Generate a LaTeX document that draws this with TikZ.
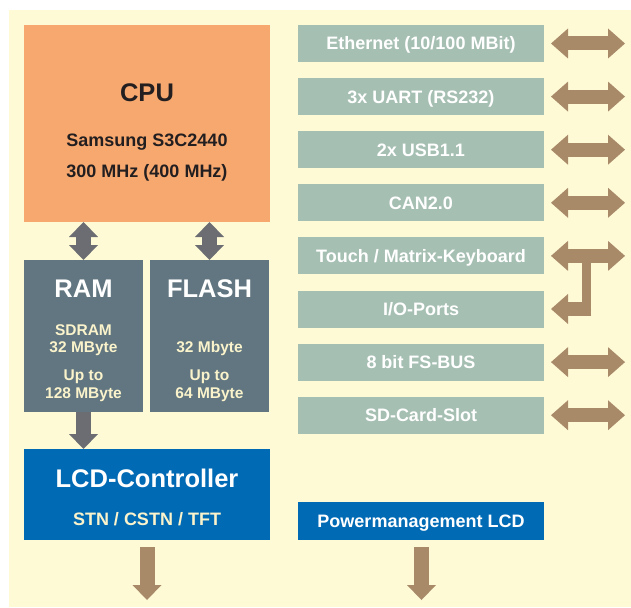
\documentclass[tikz,border=0pt]{standalone}
\usepackage{fontspec}
\setmainfont{Liberation Sans}
\usetikzlibrary{arrows.meta}
\definecolor{bgcream}{HTML}{FFFAD6}
\definecolor{cpuorange}{HTML}{F7A86F}
\definecolor{cpudark}{HTML}{231F20}
\definecolor{memslate}{HTML}{617680}
\definecolor{memtext}{HTML}{FAF3CB}
\definecolor{iogreen}{HTML}{A6BFB3}
\definecolor{lcdblue}{HTML}{006AB5}
\definecolor{arrbrown}{HTML}{A88A69}
\definecolor{arrgrey}{HTML}{6B6D72}
\tikzset{
  blk/.style={inner sep=0pt, outer sep=0pt, anchor=north west},
  titlefont/.style={font=\bfseries\fontsize{25.5}{30}\selectfont},
  midfont/.style={font=\bfseries\fontsize{18}{21}\selectfont},
  smallfont/.style={font=\bfseries\fontsize{15.5}{18}\selectfont},
  txt/.style={inner sep=0pt, anchor=base},
  iobox/.style={blk, fill=iogreen, text=white, midfont, minimum width=246pt, minimum height=37pt, text height=12.9pt, text depth=0pt},
  gtip/.tip={Triangle[width=29pt,length=15pt,line width=0pt]},
  btip/.tip={Triangle[width=30pt,length=17pt,line width=0pt]},
  greyarr/.style={draw=arrgrey, fill=arrgrey, line width=15pt},
  brownarr/.style={draw=arrbrown, fill=arrbrown, line width=14pt},
  brownvert/.style={draw=arrbrown, fill=arrbrown, line width=15pt},
}
\begin{document}
\begin{tikzpicture}[x=1pt,y=-1pt]
\useasboundingbox (0,0) rectangle (631,607);
\fill[white] (0,0) rectangle (631,607);
\fill[bgcream] (9,10) rectangle (631,607);

% CPU
\node[blk, fill=cpuorange, minimum width=246pt, minimum height=197pt] (cpu) at (24,25) {};
\node[txt, titlefont, text=cpudark] (cpuname) at (147,101.7) {CPU};
\node[txt, midfont, text=cpudark] (cpuchip) at (147,146.7) {Samsung S3C2440};
\node[txt, midfont, text=cpudark] (cpufreq) at (147,177) {300 MHz (400 MHz)};

% RAM / FLASH
\node[blk, fill=memslate, minimum width=119pt, minimum height=152pt] (ram) at (24,260) {};
\node[blk, fill=memslate, minimum width=119pt, minimum height=152pt] (flash) at (150,260) {};
\node[txt, titlefont, text=white] (ramt) at (83.5,297.3) {RAM};
\node[txt, smallfont, text=memtext] (ram1) at (83.5,335) {SDRAM};
\node[txt, smallfont, text=memtext] (ram2) at (83.5,352.7) {32 MByte};
\node[txt, smallfont, text=memtext] (ram3) at (83.5,380.7) {Up to};
\node[txt, smallfont, text=memtext] (ram4) at (83.5,398.3) {128 MByte};
\node[txt, titlefont, text=white] (flasht) at (209.5,297.3) {FLASH};
\node[txt, smallfont, text=memtext] (flash2) at (209.5,352.7) {32 Mbyte};
\node[txt, smallfont, text=memtext] (flash3) at (209.5,380.7) {Up to};
\node[txt, smallfont, text=memtext] (flash4) at (209.5,398.3) {64 MByte};

% LCD
\node[blk, fill=lcdblue, minimum width=246pt, minimum height=91pt] (lcd) at (24,449) {};
\node[txt, titlefont, text=white] (lcdt) at (147,487.3) {LCD-Controller};
\node[txt, midfont, text=memtext] (lcds) at (147,525) {STN / CSTN / TFT};
\node[blk, fill=lcdblue, text=white, midfont, minimum width=246pt, minimum height=38pt, text height=12.9pt, text depth=0pt] (power) at (298,502) {Powermanagement LCD};

% IO column
\node[iobox] (eth) at (298,25) {Ethernet (10/100 MBit)};
\node[iobox] (uart) at (298,78.1) {3x UART (RS232)};
\node[iobox] (usb) at (298,131.2) {2x USB1.1};
\node[iobox] (can) at (298,184.3) {CAN2.0};
\node[iobox] (touch) at (298,237.4) {Touch / Matrix-Keyboard};
\node[iobox] (io) at (298,290.5) {I/O-Ports};
\node[iobox] (fsbus) at (298,343.6) {8 bit FS-BUS};
\node[iobox] (sd) at (298,396.7) {SD-Card-Slot};

% grey arrows
\draw[greyarr, gtip-gtip] (cpu.south -| ram.north) -- (ram.north);
\draw[greyarr, gtip-gtip] (cpu.south -| flash.north) -- (flash.north);
\draw[greyarr, -gtip] (ram.south) -- (ram.south |- lcd.north);

% right double arrows
\foreach \n in {eth,uart,usb,can,touch,fsbus,sd}{
  \draw[brownarr, btip-btip] ([xshift=7pt]\n.east) -- ([xshift=81pt]\n.east);
}
% T connector touch / io
\draw[arrbrown, line width=9.5pt] ([xshift=42.5pt]touch.east) -- ([xshift=42.5pt,yshift=-7pt]io.east);
\draw[brownarr, -btip] ([xshift=47.25pt]io.east) -- ([xshift=7pt]io.east);

% bottom arrows
\draw[brownvert, -gtip] ([yshift=-7pt]lcd.south) -- ([yshift=-60pt]lcd.south);
\draw[brownvert, -gtip] ([xshift=0.5pt,yshift=-7pt]power.south) -- ([xshift=0.5pt,yshift=-60pt]power.south);
\end{tikzpicture}
\end{document}
